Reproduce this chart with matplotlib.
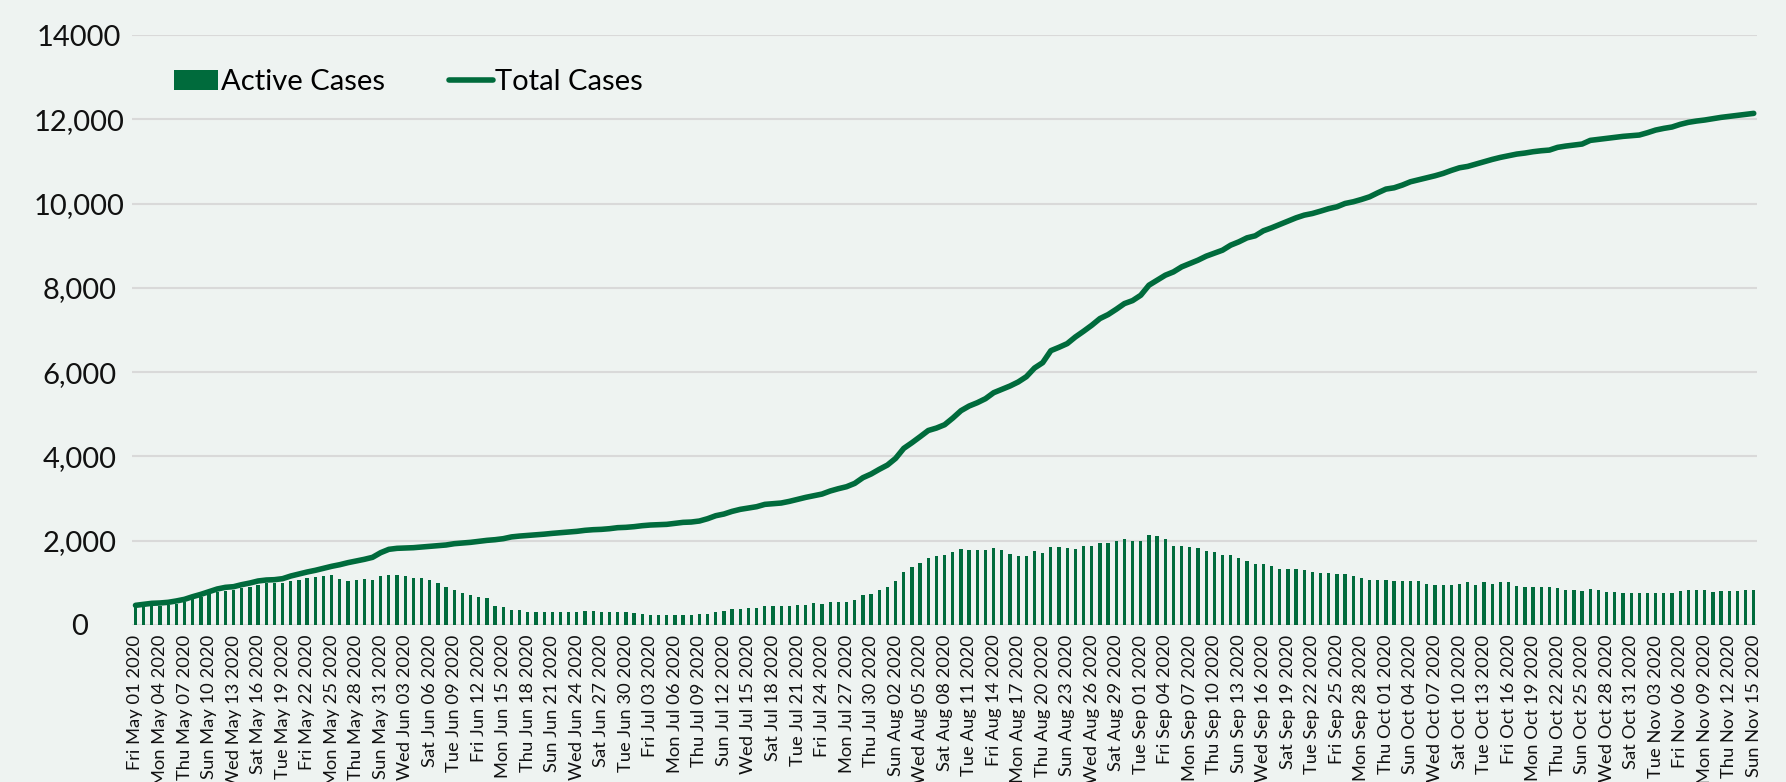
import numpy as np
import pandas as pd
import matplotlib
matplotlib.use("Agg")
import matplotlib.pyplot as plt

# daily values, Fri May 01 2020 .. Sun Nov 15 2020
START_DATE = "2020-05-01"
END_DATE = "2020-11-15"

total_may = [466, 490, 514, 522, 538, 570, 609, 672, 727, 790,
             854, 893, 909, 957, 996, 1044, 1067, 1075, 1099, 1162,
             1210, 1257, 1297, 1344, 1392, 1431, 1479, 1518, 1558, 1605,
             1716]
total_jun = [1795, 1819, 1827, 1834, 1850, 1866, 1882, 1898, 1929, 1945,
             1961, 1985, 2008, 2024, 2048, 2090, 2110, 2125, 2140, 2155,
             2174, 2190, 2206, 2222, 2246, 2261, 2269, 2285, 2309, 2317]
total_jul = [2333, 2356, 2372, 2380, 2388, 2412, 2435, 2443, 2467, 2522,
             2593, 2633, 2696, 2744, 2775, 2807, 2862, 2878, 2894, 2933,
             2981, 3028, 3068, 3107, 3179, 3234, 3281, 3360, 3495, 3582,
             3693]
total_aug = [3795, 3953, 4191, 4325, 4468, 4615, 4673, 4752, 4910, 5085,
             5196, 5275, 5370, 5512, 5592, 5671, 5766, 5892, 6098, 6225,
             6510, 6590, 6677, 6835, 6970, 7112, 7271, 7366, 7492, 7627,
             7698]
total_sep = [7825, 8063, 8181, 8300, 8379, 8498, 8577, 8657, 8752, 8823,
             8894, 9013, 9092, 9187, 9235, 9354, 9425, 9504, 9583, 9662,
             9726, 9765, 9821, 9880, 9924, 10003, 10043, 10098, 10161, 10256]
total_oct = [10344, 10375, 10439, 10518, 10565, 10613, 10660, 10716, 10787, 10850,
             10882, 10938, 10993, 11048, 11096, 11136, 11175, 11199, 11231, 11254,
             11270, 11334, 11365, 11389, 11413, 11500, 11524, 11547, 11571, 11595,
             11611]
total_nov = [11627, 11682, 11745, 11785, 11817, 11880, 11928, 11959, 11983, 12015,
             12046, 12070, 12094, 12118, 12141]

active_may = [435, 435, 450, 458, 466, 498, 553, 617, 672, 727,
              790, 814, 830, 870, 909, 957, 988, 988, 1004, 1052,
              1067, 1107, 1131, 1162, 1194, 1099, 1052, 1067, 1099, 1067,
              1162]
active_jun = [1194, 1186, 1162, 1123, 1107, 1067, 988, 909, 830, 751,
              712, 672, 648, 450, 435, 356, 356, 316, 308, 308,
              308, 308, 308, 316, 332, 324, 308, 308, 316, 300]
active_jul = [277, 261, 245, 245, 245, 229, 237, 237, 253, 269,
              316, 324, 372, 387, 395, 395, 451, 451, 451, 451,
              467, 482, 530, 490, 538, 538, 553, 593, 712, 743,
              830]
active_aug = [909, 1044, 1265, 1368, 1479, 1585, 1632, 1672, 1736, 1800,
              1784, 1784, 1784, 1816, 1768, 1696, 1640, 1640, 1744, 1704,
              1856, 1856, 1832, 1800, 1880, 1880, 1952, 1952, 2000, 2032,
              2000]
active_sep = [2000, 2128, 2104, 2040, 1880, 1864, 1856, 1824, 1744, 1720,
              1656, 1656, 1592, 1528, 1440, 1440, 1390, 1340, 1340, 1325,
              1304, 1256, 1232, 1232, 1200, 1200, 1152, 1104, 1072, 1072]
active_oct = [1072, 1040, 1040, 1040, 1032, 976, 960, 960, 960, 976,
              1008, 960, 1008, 976, 1008, 1008, 936, 912, 896, 896,
              896, 888, 832, 832, 816, 848, 832, 776, 776, 760,
              752]
active_nov = [752, 760, 768, 768, 768, 816, 840, 840, 840, 792,
              808, 808, 808, 840, 840]

y_ticks = [0, 2000, 4000, 6000, 8000, 10000, 12000, 14000]
y_tick_labels = ["0", "2,000", "4,000", "6,000", "8,000", "10,000", "12,000", "14000"]

total = total_may + total_jun + total_jul + total_aug + total_sep + total_oct + total_nov
active = active_may + active_jun + active_jul + active_aug + active_sep + active_oct + active_nov
dates = pd.date_range(START_DATE, END_DATE, freq="D")
x = np.arange(len(dates))

GREEN = "#006B3C"
BG = "#EEF3F1"

plt.rcParams["font.family"] = ["Lato", "DejaVu Sans"]

fig = plt.figure(figsize=(17.86, 7.82), dpi=100)
fig.patch.set_facecolor(BG)
ax = fig.add_axes([0.0739, 0.2008, 0.9100, 0.7544])
ax.set_facecolor(BG)

bars = ax.bar(x, active, width=0.4, color=GREEN, label="Active Cases", zorder=2)
line, = ax.plot(x, total, color=GREEN, lw=4, solid_capstyle="round",
                solid_joinstyle="round", label="Total Cases", zorder=3)

ax.set_xlim(-0.43, len(x) - 1 + 0.43)
ax.set_ylim(0, 14000)

ax.set_yticks(y_ticks)
ax.set_yticklabels(y_tick_labels, ha="center")
ax.tick_params(axis="y", length=0, pad=38, labelsize=21, labelcolor="#111111")

# every third day gets a label
tick_pos = x[::3]
ax.set_xticks(tick_pos)
ax.set_xticklabels([d.strftime("%a %b %d %Y") for d in dates[::3]],
                   rotation=90, ha="center", va="top")
ax.tick_params(axis="x", length=0, pad=7, labelsize=13.2, labelcolor="#111111")

ax.yaxis.grid(True, color="#D9D9D9", lw=1.5)
ax.set_axisbelow(True)
for s in ax.spines.values():
    s.set_visible(False)

ax.legend(handles=[bars, line], loc="center left", bbox_to_anchor=(0.0974, 0.895),
          bbox_transform=fig.transFigure, ncol=2, frameon=False,
          fontsize=21, handlelength=1.5, handleheight=0.65,
          handletextpad=0.1, columnspacing=2.2,
          borderpad=0, borderaxespad=0)

fig.savefig("out.png", dpi=100, facecolor=BG)
